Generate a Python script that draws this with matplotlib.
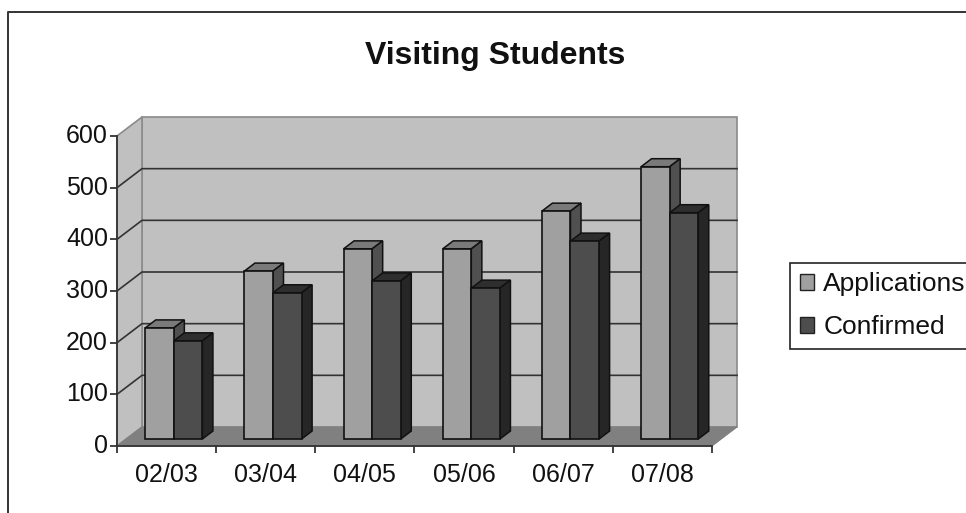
import matplotlib
matplotlib.use("Agg")
import matplotlib.pyplot as plt
from matplotlib.lines import Line2D
from matplotlib.patches import Patch, Polygon
from matplotlib.transforms import Affine2D
import numpy as np

plt.rcParams['font.family'] = ['Liberation Sans', 'DejaVu Sans']

years = ['02/03', '03/04', '04/05', '05/06', '06/07', '07/08']
applications = [215, 325, 368, 368, 441, 527]
confirmed = [190, 283, 306, 292, 383, 438]
y_ticks = [0, 100, 200, 300, 400, 500, 600]

W, H = 966, 513
fig = plt.figure(figsize=(W / 100, H / 100), dpi=100, facecolor='white')
L, R, T, B = 117, 712, 136, 446
ax = fig.add_axes([L / W, 1 - B / H, (R - L) / W, (B - T) / H])
ax.set_xlim(0, len(years))
ax.set_ylim(0, 600)
ax.patch.set_visible(False)

# depth vector of the 3D box, in data units
px_x = len(years) / (R - L)
px_y = 600 / (B - T)
DX, DY = 25 * px_x, 19 * px_y
N = len(years)

def P(x, y, d):
    return (x + d * DX, y + d * DY)

def poly(pts, fc, ec, lw=0.0, z=1):
    ax.add_patch(Polygon(pts, closed=True, facecolor=fc, edgecolor=ec,
                         linewidth=lw, zorder=z, clip_on=False))

WALL = '#c0c0c0'
EDGE = '#8a8a8a'
# back wall, side wall, floor
poly([P(0, 0, 1), P(N, 0, 1), P(N, 600, 1), P(0, 600, 1)], WALL, EDGE, 1.2, 1)
poly([P(0, 0, 0), P(0, 0, 1), P(0, 600, 1), P(0, 600, 0)], WALL, EDGE, 1.2, 1)
poly([P(0, 0, 0), P(N, 0, 0), P(N, 0, 1), P(0, 0, 1)], '#808080', '#808080', 0.8, 1.5)

for v in y_ticks[1:-1]:
    xs, ys = zip(P(0, v, 0), P(0, v, 1), P(N, v, 1))
    ax.plot(xs, ys, color='#333333', lw=1.2, zorder=2, clip_on=False)

# bars
d0, d1 = 7 / 19, 15 / 19
bw = 28.6 * px_x
x0 = np.arange(N) + 0.5
series = [
    (applications, -bw, '#a0a0a0', '#7a7a7a', '#505050'),
    (confirmed, 0, '#4d4d4d', '#2e2e2e', '#262626'),
]
base = d0 * DY
shift = d0 * DX - 0.02
for i in range(N):
    for vals, off, front, top, side in series:
        v = vals[i]
        xl = x0[i] + off + shift
        xr = xl + bw
        z = 3 + i
        ax.bar(xl, v, width=bw, bottom=base, align='edge', color=front,
               edgecolor='#111111', linewidth=1.2, zorder=z + 0.1, clip_on=False)
        dd = d1 - d0
        poly([P(xl, v + base, 0), P(xr, v + base, 0), P(xr, v + base, dd), P(xl, v + base, dd)],
             top, '#111111', 1.1, z)
        poly([P(xr, base, 0), P(xr, base, dd), P(xr, v + base, dd), P(xr, v + base, 0)],
             side, '#111111', 1.1, z)

# axes
for s in ('top', 'right'):
    ax.spines[s].set_visible(False)
for s in ('left', 'bottom'):
    ax.spines[s].set_color('#333333')
    ax.spines[s].set_linewidth(1.3)
    ax.spines[s].set_zorder(20)
ax.set_yticks(y_ticks)
ax.set_xticks(range(N + 1))
ax.set_xticklabels([''] * (N + 1))
ax.set_xticks(x0, labels=years, minor=True)
ax.tick_params(axis='x', which='minor', length=0, pad=12, labelsize=18, labelcolor='#111111')
ax.tick_params(axis='x', which='major', length=5, width=1.2, color='#222222')
ax.tick_params(axis='y', length=5, width=1.2, color='#222222', pad=1.5, labelsize=18, labelcolor='#111111')
for lab in ax.get_yticklabels():
    lab.set_transform(lab.get_transform() + Affine2D().translate(0, 2.5))

fig.text(495 / W, 1 - 56 / H, 'Visiting Students', ha='center', va='center',
         fontsize=23, fontweight='bold', color='#111111')

# chart area border (top and left only are in frame)
fig.add_artist(Line2D([8 / W, 8 / W, 1], [0, 1 - 12 / H, 1 - 12 / H], color='#333333', lw=1.4))

handles = [Patch(facecolor='#a0a0a0', edgecolor='#222222', linewidth=1, label='Applications'),
           Patch(facecolor='#4d4d4d', edgecolor='#222222', linewidth=1, label='Confirmed')]
leg = fig.legend(handles=handles, loc='upper left', bbox_to_anchor=(790 / W, 1 - 263 / H),
                 fontsize=19, frameon=True, fancybox=False, edgecolor='#222222',
                 framealpha=1, borderpad=0.36, handlelength=0.55, handleheight=0.55,
                 handletextpad=0.35, labelspacing=0.72, borderaxespad=0, labelcolor='#111111')
leg.get_frame().set_linewidth(1.2)

fig.savefig('out.png', dpi=100)
